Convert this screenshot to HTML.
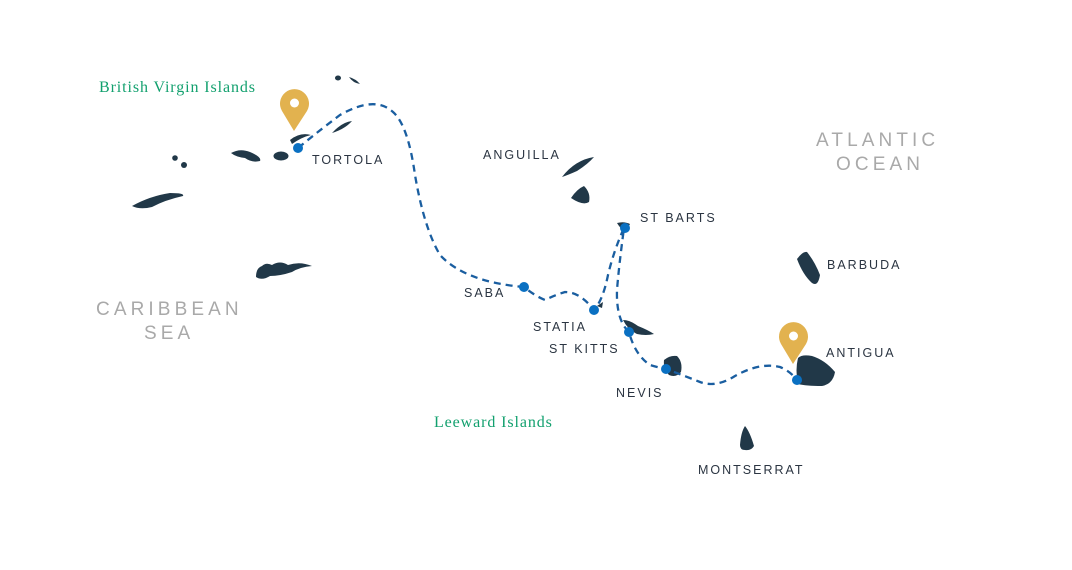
<!DOCTYPE html>
<html><head><meta charset="utf-8"><style>
html,body{margin:0;padding:0;background:#fff}
svg{display:block}
.l{font-family:"Liberation Sans",sans-serif;font-size:12.5px;letter-spacing:2px;fill:#2b3542}
.g{font-family:"Liberation Serif",serif;font-size:16px;fill:#12a06e;letter-spacing:0.9px}
.s{font-family:"Liberation Sans",sans-serif;font-size:19px;letter-spacing:4.1px;fill:#a9a9a9}
</style></head><body>
<svg width="1072" height="570" viewBox="0 0 1072 570" xmlns="http://www.w3.org/2000/svg">
<g fill="#213848">
<ellipse cx="338" cy="78" rx="3" ry="2.5"/>
<path d="M349 77 Q356 79 360 84 Q353 83 349 77Z"/>
<path d="M290 140 Q300 132 311 135 Q302 137 292 144Z"/>
<path d="M332 133 Q342 122 352 121 Q345 129 332 133Z"/>
<path d="M231 153 Q240 148 250 152 Q262 157 260 161 Q252 163 245 158 Q236 157 231 153Z"/>
<ellipse cx="281" cy="156" rx="7.5" ry="4.5"/>
<circle cx="175" cy="158" r="2.8"/><circle cx="184" cy="165" r="3"/>
<path d="M132 206 Q150 196 170 193 Q185 193 183 196 Q165 200 152 207 Q140 210 132 206Z"/>
<path d="M256 277 Q256 268 262 266 Q266 262 272 265 Q280 260 288 265 Q300 261 312 266 Q300 267 292 272 Q280 276 270 276 Q262 281 256 277Z"/>
<path d="M562 177 Q575 160 594 157 Q588 164 577 171 Q568 175 562 177Z"/>
<path d="M571 198 Q577 189 584 186 Q591 193 589 202 Q583 206 571 198Z"/>
<path d="M617 223 Q624 221 630 224 Q627 230 624 231 Q620 228 617 223Z"/>
<path d="M597 306 L603 302 L602 308Z"/>
<path d="M623 320 Q630 320 638 326 Q648 330 654 334 Q646 336 637 334 Q628 330 623 320Z"/>
<path d="M664 360 Q670 355 677 356 Q683 362 681 372 Q676 378 669 375 Q663 369 664 360Z"/>
<path d="M797 259 Q803 251 807 252 Q815 262 820 275 Q818 287 812 283 Q803 275 797 259Z"/>
<path d="M798 358 Q802 354 812 356 Q825 360 835 372 Q833 384 822 386 Q806 386 798 384 Q795 370 798 358Z"/>
<path d="M740 445 Q741 432 745 426 Q750 432 754 446 Q751 451 745 450 Q740 450 740 445Z"/>
</g>
<path d="M298 148 Q320 130 340 115 Q375 95 393 112 Q408 125 415 175 Q424 228 440 255 Q465 282 524 287 Q535 296 545 300 Q555 295 565 292 Q580 292 594 310 Q603 300 608 275 Q614 250 624 228 Q619 265 617 290 Q616 320 629 332 Q635 355 650 365 Q660 368 666 369 Q690 378 700 382 Q716 388 735 376 Q760 362 780 367 Q790 371 797 380" fill="none" stroke="#1a5ea0" stroke-width="2.3" stroke-dasharray="7,5"/>
<g fill="#0a70c2">
<circle cx="298" cy="148" r="5"/><circle cx="524" cy="287" r="5"/><circle cx="594" cy="310" r="5"/><circle cx="625" cy="228" r="5"/><circle cx="629" cy="332" r="5"/><circle cx="666" cy="369" r="5"/><circle cx="797" cy="380" r="5"/>
</g>
<g fill="#e2b24f">
<path d="M294 131 L282 111 A14.5 14.5 0 1 1 307 111 Z"/>
<path d="M793 364 L781 344 A14.5 14.5 0 1 1 806 344 Z"/>
</g>
<circle cx="294.5" cy="103" r="4.5" fill="#fff"/>
<circle cx="793.5" cy="336" r="4.5" fill="#fff"/>
<text class="g" x="99" y="92">British Virgin Islands</text>
<text class="g" x="434" y="427">Leeward Islands</text>
<text class="l" x="312" y="164">TORTOLA</text>
<text class="l" x="483" y="159">ANGUILLA</text>
<text class="l" x="640" y="222">ST BARTS</text>
<text class="l" x="827" y="269">BARBUDA</text>
<text class="l" x="464" y="297">SABA</text>
<text class="l" x="533" y="331">STATIA</text>
<text class="l" x="549" y="353">ST KITTS</text>
<text class="l" x="826" y="357">ANTIGUA</text>
<text class="l" x="616" y="397">NEVIS</text>
<text class="l" x="698" y="474">MONTSERRAT</text>
<text class="s" x="816" y="146">ATLANTIC</text>
<text class="s" x="836" y="170">OCEAN</text>
<text class="s" x="96" y="315">CARIBBEAN</text>
<text class="s" x="144" y="339">SEA</text>
</svg>
</body></html>
